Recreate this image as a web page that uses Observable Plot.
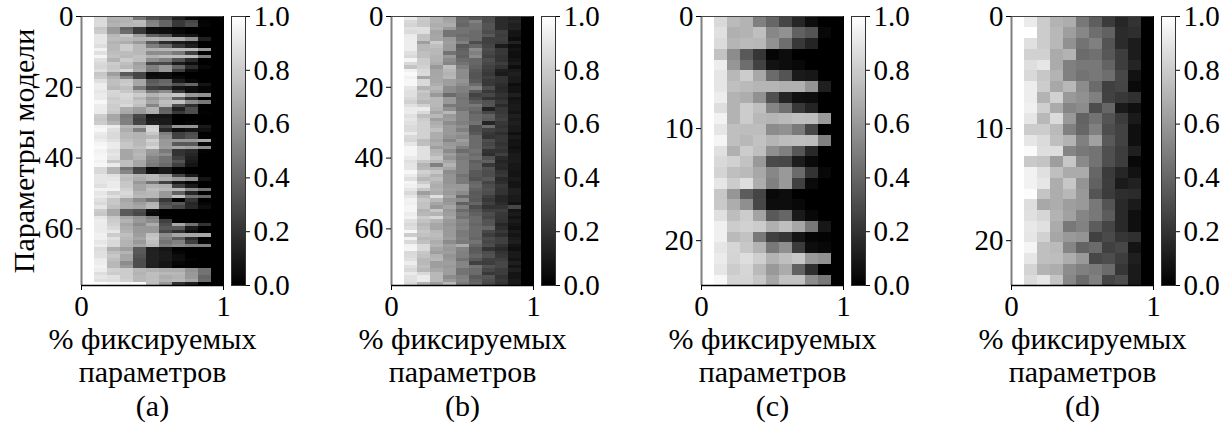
<!DOCTYPE html>
<html>
<head>
<meta charset="utf-8">
<script src="https://cdn.jsdelivr.net/npm/d3@7"></script>
<script src="https://cdn.jsdelivr.net/npm/@observablehq/plot@0.6"></script>
<style>
  html, body { margin: 0; padding: 0; background: #fff; }
  #chart { position: relative; width: 1225px; height: 427px; overflow: hidden; }
  #chart svg { position: absolute; top: 0; background: transparent; overflow: visible; max-width: none; }
</style>
</head>
<body>
<div id="chart"></div>
<script>
// Columns 2..10 of each heat map, in percent; column 1 is always 100 and column 11 always 0.
const rowsA = [
[85,70,70,47,32,28,12,3,0],[86,68,70,74,50,40,22,28,1],[86,70,72,72,52,40,22,30,2],[78,60,38,22,5,5,2,0,0],
[80,60,42,22,7,5,3,0,0],[90,72,78,62,38,32,10,8,0],[90,74,73,70,70,68,68,57,12],[90,70,68,60,35,17,10,8,0],
[87,72,80,72,50,42,22,12,0],[95,72,80,72,70,72,74,74,60],[88,74,74,72,55,55,47,25,0],[96,76,73,76,70,74,74,74,50],
[88,70,80,75,56,50,32,16,0],[85,80,75,62,28,28,11,5,0],[84,78,72,65,50,60,40,18,3],[88,80,85,68,48,60,25,5,0],
[78,62,35,27,3,5,0,0,0],[80,70,52,28,5,5,3,0,0],[88,75,78,65,35,40,10,3,0],[93,75,80,65,38,42,33,40,8],
[93,72,75,48,25,22,8,5,2],[90,84,78,70,47,55,22,5,2],[92,83,85,80,70,75,78,60,57],[92,80,84,73,60,67,38,18,0],
[97,82,82,78,65,75,76,55,47],[93,80,85,75,52,72,30,18,0],[92,80,68,62,70,38,12,30,0],[92,78,66,60,68,40,22,30,1],
[80,65,48,28,8,8,0,0,0],[78,65,50,25,10,10,0,0,0],[80,70,50,27,12,10,0,2,0],[95,92,72,70,82,28,58,58,10],
[97,87,68,50,84,16,5,8,6],[92,85,72,70,78,50,25,30,0],[90,85,72,70,72,55,26,32,1],[93,88,75,72,82,60,60,60,65],
[96,92,78,72,78,60,35,35,2],[98,92,78,75,84,62,65,62,55],[95,88,65,70,60,48,20,17,1],[96,90,65,72,58,55,20,15,0],
[97,88,65,70,52,45,25,12,0],[95,78,75,65,50,45,33,10,0],[97,92,75,65,48,42,25,8,0],[85,70,45,25,3,10,2,0,0],
[85,70,52,27,6,10,3,0,0],[90,88,76,70,72,62,28,10,0],[90,90,74,68,72,68,62,55,8],[90,92,78,60,45,25,8,2,0],
[88,92,78,65,70,68,25,10,0],[95,95,82,65,75,72,72,55,45],[90,82,85,70,72,60,38,15,0],[92,88,82,72,72,60,75,45,40],
[88,78,65,55,45,22,0,20,0],[85,78,68,62,70,30,35,15,2],[90,75,68,65,72,35,28,16,5],[80,65,35,30,5,0,0,0,0],
[78,65,35,28,3,0,0,0,0],[90,78,65,58,50,2,0,0,0],[93,80,70,60,55,25,0,0,0],[92,82,65,55,68,30,65,45,20],
[92,85,68,60,60,35,35,10,0],[92,90,70,60,60,28,18,5,0],[94,80,75,62,76,55,65,65,65],[94,88,72,65,78,50,37,17,0],
[90,85,70,60,75,45,50,25,2],[93,85,70,65,72,50,55,50,50],[86,68,62,35,12,8,0,0,0],[88,75,70,35,13,10,2,0,0],
[88,78,65,33,13,10,5,0,0],[92,75,65,30,13,10,5,1,0],[93,72,55,30,13,8,2,0,0],[95,72,60,30,12,8,0,0,0],
[93,82,80,72,70,68,68,58,45],[87,80,80,70,75,72,72,60,45],[90,88,80,72,74,68,70,60,40],[88,87,82,72,75,70,72,65,42],
[99,97,97,98,75,60,20,12,0]
];
const rowsB = [
[92,80,70,63,40,35,30,17,13],[85,78,70,65,42,50,30,17,15],[83,78,68,68,40,45,33,17,12],[88,88,70,60,45,45,33,17,13],
[86,87,64,45,45,42,30,25,8],[92,76,65,45,42,42,35,24,8],[93,76,65,60,45,42,25,25,5],[93,62,80,62,50,30,25,23,13],
[93,72,75,60,35,40,27,10,5],[93,72,72,60,38,55,30,22,8],[88,75,72,45,40,50,28,22,6],[85,75,70,60,38,55,25,20,6],
[96,80,70,55,42,40,30,20,8],[85,80,68,52,45,40,28,24,10],[77,82,60,75,50,38,26,20,5],[95,85,65,72,55,35,24,12,10],
[98,86,65,70,55,33,22,10,12],[95,65,66,72,55,33,25,20,10],[97,85,66,62,58,35,22,20,10],[97,85,68,62,55,42,22,18,5],
[90,70,72,55,50,52,30,16,8],[88,78,68,55,50,35,22,17,7],[88,75,60,42,47,26,28,20,12],[85,76,72,60,45,30,20,18,7],
[82,72,72,60,47,37,32,22,9],[88,82,72,48,47,47,33,17,10],[92,92,70,56,45,42,13,22,10],[92,85,65,72,52,38,28,22,8],
[88,75,72,60,52,42,38,24,12],[90,80,62,62,52,42,36,26,10],[88,82,68,55,50,45,14,22,12],[86,82,70,60,55,32,42,20,10],
[86,82,75,60,50,32,25,22,10],[92,82,68,60,58,35,22,18,6],[85,82,68,58,55,42,20,22,10],[84,74,65,52,62,42,30,22,7],
[90,75,68,60,58,42,28,20,8],[96,88,62,62,50,42,30,22,6],[96,88,70,55,42,45,20,20,8],[96,88,72,62,50,42,18,25,10],
[92,88,78,58,48,45,32,17,10],[88,78,72,65,50,37,38,14,11],[90,70,50,70,50,40,22,16,9],[90,72,70,65,50,40,32,15,9],
[97,82,78,55,50,35,30,20,8],[92,78,70,58,45,35,30,22,8],[88,72,75,58,48,32,35,16,10],[96,80,70,58,48,40,27,18,8],
[94,88,68,60,60,42,30,22,8],[90,78,70,62,60,38,32,20,12],[85,62,68,60,55,35,30,20,12],[90,72,88,65,42,36,25,15,10],
[95,78,72,58,55,35,22,15,10],[94,76,65,60,38,40,25,17,7],[96,76,60,65,50,30,20,20,28],[96,70,78,60,42,35,25,25,8],
[93,72,70,62,48,38,30,22,10],[95,80,85,65,45,42,28,21,7],[88,76,70,60,52,42,33,20,10],[85,72,65,58,50,40,33,15,8],
[87,75,65,60,52,42,40,18,6],[97,78,72,60,48,42,28,22,10],[80,76,74,60,48,42,24,18,8],[95,72,72,62,50,40,30,25,10],
[85,75,68,55,48,45,28,25,12],[95,85,70,62,68,40,30,20,8],[96,85,65,60,52,35,20,16,6],[85,78,62,62,50,36,30,20,10],
[86,76,70,58,50,40,32,22,10],[88,72,72,60,45,35,25,25,8],[93,72,62,62,52,25,24,28,12],[88,75,62,60,52,45,32,28,8],
[85,72,66,62,45,42,28,24,12],[92,85,72,62,45,42,22,24,8],[88,92,72,55,50,35,33,20,8],[88,92,72,60,52,38,30,22,10],
[85,70,62,72,48,40,28,20,10]
];
const rowsC = [
[85,73,70,50,40,27,15,5,0],[88,69,70,75,53,57,38,33,3],[86,71,73,72,57,43,22,14,0],[76,55,35,21,2,5,0,0,0],
[93,59,43,26,7,5,3,0,0],[90,72,80,66,42,33,10,9,0],[90,75,73,71,71,69,69,58,12],[93,70,68,57,31,14,6,5,0],
[87,70,80,75,52,44,22,14,0],[95,70,80,72,71,73,75,74,60],[90,75,74,74,55,57,48,28,0],[96,75,72,76,71,74,75,74,50],
[88,69,80,75,56,50,34,16,0],[85,82,76,60,29,28,11,4,0],[83,75,73,66,53,60,42,20,3],[90,80,87,68,50,60,25,4,0],
[78,59,36,27,3,5,0,0,0],[79,68,56,28,5,5,3,0,0],[88,74,80,64,35,40,10,3,0],[94,80,82,80,69,75,65,47,9],
[94,73,76,47,25,21,8,2,1],[90,84,78,70,47,56,23,5,3],[92,83,87,81,70,75,78,60,57],[90,80,84,73,60,67,38,18,0],
[97,83,83,78,65,76,76,55,47]
];
const rowsD = [
[92,80,70,68,47,37,23,15,20],[100,80,72,62,53,43,38,17,18],[88,80,72,57,45,50,33,17,11],[82,82,67,70,42,44,34,24,11],
[87,90,67,50,47,47,39,24,14],[85,78,70,50,45,47,43,28,7],[93,80,66,72,55,42,25,27,4],[93,70,82,60,57,50,26,22,19],
[94,81,67,52,55,30,40,10,6],[90,72,86,60,39,45,33,23,10],[80,80,73,50,40,50,30,26,6],[90,86,75,70,50,63,35,26,6],
[98,87,87,52,47,45,31,24,12],[79,77,62,78,54,45,31,24,3],[95,88,75,67,67,40,23,15,7],[95,90,68,78,58,38,24,10,13],
[99,77,68,72,60,33,23,18,17],[87,66,68,62,60,47,33,16,10],[88,84,70,63,52,47,36,16,6],[91,88,67,47,51,36,27,16,6],
[90,82,65,60,58,25,29,21,19],[96,75,73,52,39,42,25,28,8],[90,75,74,68,60,28,30,24,12],[83,70,68,55,50,48,42,21,10],
[86,90,77,53,42,50,27,30,10]
];
const panelRows = [rowsA, rowsB, rowsC, rowsD];
const yMax = [76, 76, 24, 24];
const yTicks = [[0,20,40,60],[0,20,40,60],[0,10,20],[0,10,20]];
const xTicks = [0, 1];
const barTicks = [0, 0.2, 0.4, 0.6, 0.8, 1];
const letters = ["(a)", "(b)", "(c)", "(d)"];
const xTitle = "% фиксируемых\nпараметров";
const yTitle = "Параметры модели";

const font = "Liberation Serif";
const tickSize = 29, labelSize = 30;
const grayScale = {type: "linear", domain: [0, 1], range: ["#000", "#fff"]};
const plotTop = 16, plotBottom = 285, heatW = 142, barW = 14, step = 310;
const chart = document.getElementById("chart");

panelRows.forEach((rows, i) => {
  const values = rows.flatMap(r => [1, ...r.map(v => v / 100), 0]);
  const heat = Plot.plot({
    width: 81 + heatW + 4,
    height: 427,
    marginLeft: 81, marginRight: 4, marginTop: plotTop, marginBottom: 427 - plotBottom,
    style: {color: "#000", background: "transparent"},
    color: grayScale,
    x: {domain: [0, 1], axis: null},
    y: {domain: [yMax[i], 0], axis: null},
    marks: [
      Plot.raster(values, {width: 11, height: rows.length, x1: 0, x2: 1, y1: 0, y2: yMax[i], imageRendering: "pixelated"}),
      Plot.ruleX([0], {stroke: "#808080", strokeWidth: 2}),
      Plot.ruleX([1], {stroke: "#000"}),
      Plot.ruleY([0], {stroke: "#444"}),
      Plot.ruleY([yMax[i]], {stroke: "#000", strokeWidth: 1.5}),
      Plot.axisX({ticks: xTicks, tickSize: 5, tickPadding: 5, fontSize: tickSize, fontFamily: font, label: null, tickFormat: d => String(d), anchor: "bottom", fontVariant: "normal"}),
      Plot.axisY({ticks: yTicks[i], tickSize: 5, tickPadding: 3, fontSize: tickSize, fontFamily: font, label: null, tickFormat: d => String(d), anchor: "left", fontVariant: "normal"}),
      Plot.text([xTitle + "\n" + letters[i]], {
        text: d => d, frameAnchor: "bottom", lineAnchor: "top", dy: 39, lineHeight: 1.13,
        fontSize: labelSize, fontFamily: font, fill: "#000"
      }),
      ...(i === 0 ? [Plot.text([yTitle], {
        text: d => d, frameAnchor: "left", textAnchor: "middle", rotate: -90, dx: -57, fontSize: labelSize, fontFamily: font, fill: "#000"
      })] : [])
    ]
  });
  heat.style.left = (step * i) + "px";
  chart.appendChild(heat);

  const bar = Plot.plot({
    width: barW + 60,
    height: 427,
    marginLeft: 0, marginRight: 60, marginTop: plotTop, marginBottom: 427 - plotBottom,
    style: {color: "#000", background: "transparent"},
    color: grayScale,
    x: {domain: [0, 1], axis: null},
    y: {domain: [0, 1], axis: null},
    marks: [
      Plot.raster({fill: (x, y) => y, x1: 0, x2: 1, y1: 0, y2: 1, pixelSize: 1}),
      Plot.frame({stroke: "#333"}),
      Plot.axisY({ticks: barTicks, tickSize: 4, tickPadding: 4, fontSize: tickSize, fontFamily: font, label: null, tickFormat: d => d.toFixed(1), anchor: "right", fontVariant: "normal"})
    ]
  });
  bar.style.left = (231 + step * i) + "px";
  chart.appendChild(bar);
});
</script>
</body>
</html>
